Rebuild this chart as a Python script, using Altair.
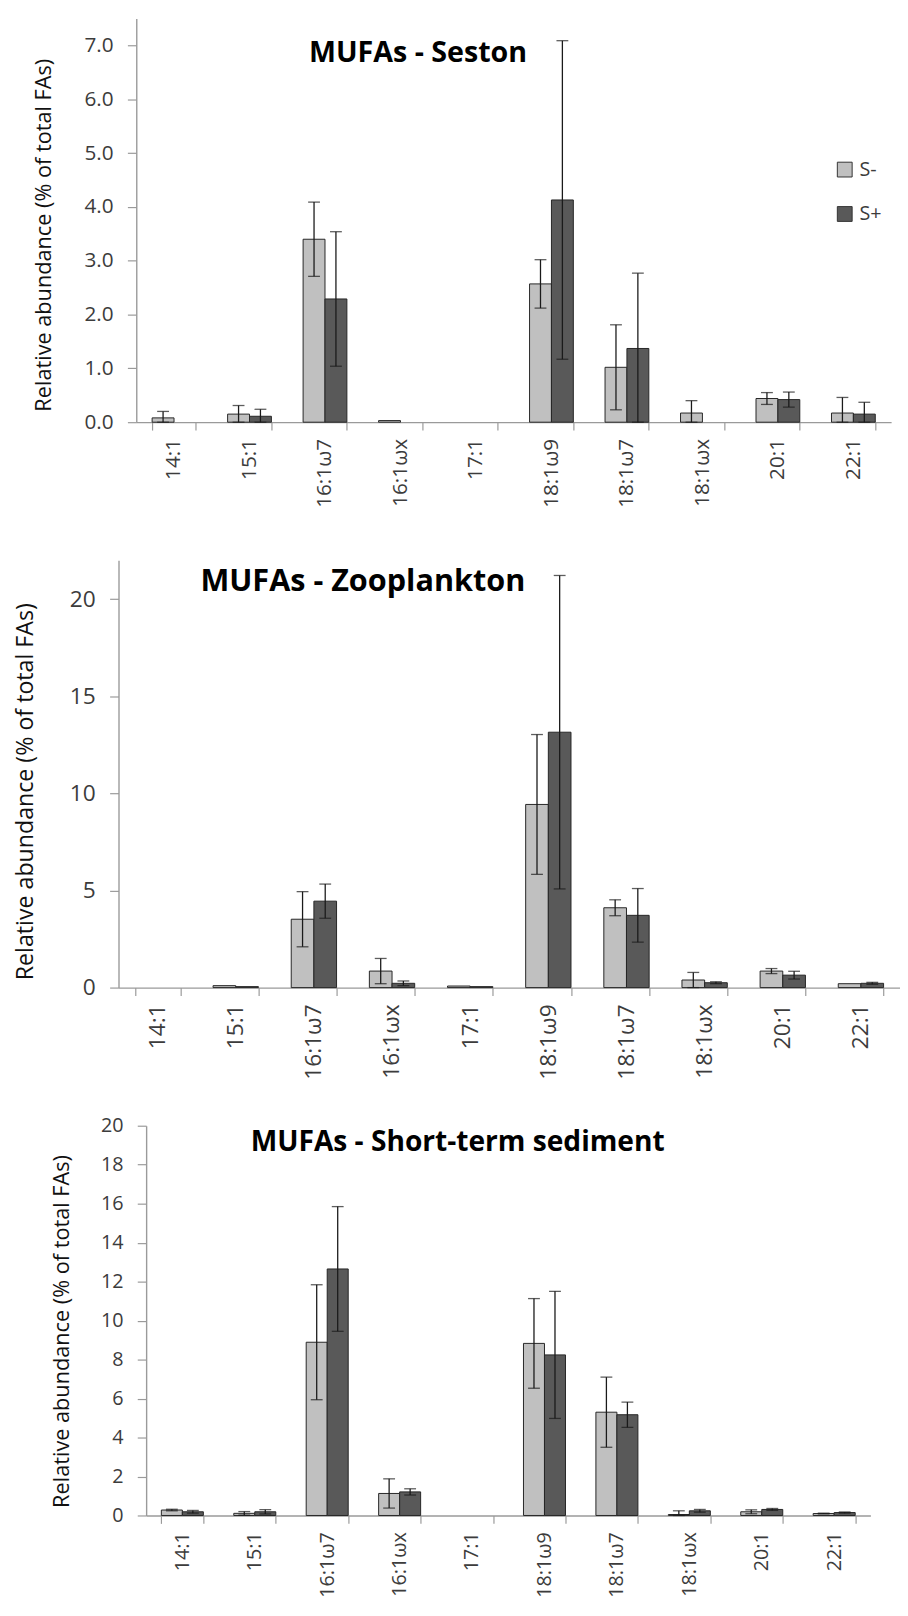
import altair as alt
import pandas as pd

categories = ["14:1", "15:1", "16:1ω7", "16:1ωx", "17:1", "18:1ω9", "18:1ω7", "18:1ωx", "20:1", "22:1"]
groups = ["S-", "S+"]

seston_sminus = [0.08, 0.15, 3.40, 0.03, 0.0, 2.57, 1.02, 0.17, 0.44, 0.17]
seston_sminus_err = [0.12, 0.16, 0.69, 0.0, 0.0, 0.45, 0.79, 0.23, 0.11, 0.29]
seston_splus = [0.0, 0.11, 2.29, 0.0, 0.0, 4.13, 1.37, 0.0, 0.42, 0.15]
seston_splus_err = [0.0, 0.13, 1.25, 0.0, 0.0, 2.96, 1.40, 0.0, 0.14, 0.22]

zoo_sminus = [0.0, 0.10, 3.52, 0.85, 0.08, 9.43, 4.11, 0.39, 0.85, 0.20]
zoo_sminus_err = [0.0, 0.0, 1.42, 0.65, 0.0, 3.60, 0.41, 0.39, 0.13, 0.0]
zoo_splus = [0.0, 0.05, 4.45, 0.22, 0.05, 13.15, 3.72, 0.25, 0.64, 0.22]
zoo_splus_err = [0.0, 0.0, 0.88, 0.12, 0.0, 8.07, 1.38, 0.05, 0.20, 0.05]

sed_sminus = [0.28, 0.11, 8.89, 1.13, 0.0, 8.83, 5.30, 0.05, 0.19, 0.10]
sed_sminus_err = [0.04, 0.09, 2.95, 0.75, 0.0, 2.30, 1.80, 0.19, 0.10, 0.02]
sed_splus = [0.19, 0.19, 12.65, 1.21, 0.0, 8.24, 5.17, 0.24, 0.31, 0.15]
sed_splus_err = [0.07, 0.11, 3.20, 0.16, 0.0, 3.26, 0.65, 0.07, 0.05, 0.03]

FONT = "Open Sans"
TXT = "#3c3c3c"
AX = "#9a9a9a"
YTITLE = "Relative abundance (% of total FAs)"


def build_df(sm, sme, sp, spe):
    rows = []
    for i, c in enumerate(categories):
        for g, v, e in (("S-", sm[i], sme[i]), ("S+", sp[i], spe[i])):
            rows.append({"cat": c, "grp": g, "value": v, "err": e,
                         "lo": max(0.0, v - e), "hi": v + e})
    return pd.DataFrame(rows)


def panel(df, title, tdx, toff, tsize, ymax, yvals, fmt, height, width, xrange_,
          yoff, lab_size, at_size, at_x, at_y, show_legend):
    xscale = alt.Scale(domain=categories, range=xrange_, paddingInner=0.42, paddingOuter=0.21)
    xaxis = alt.Axis(title=None, labelAngle=-90, labelFont=FONT, labelFontSize=lab_size,
                     labelColor=TXT, labelPadding=8.5, tickSize=8, tickColor=AX,
                     domainColor=AX, tickWidth=1.2, domainWidth=1.4, tickBand="extent",
                     labelAlign="right", labelBaseline="middle")
    yaxis = alt.Axis(title=YTITLE, values=yvals, tickCount=30, format=fmt, grid=False,
                     offset=yoff, labelFont=FONT, labelFontSize=lab_size, labelColor=TXT,
                     labelPadding=14.5, tickSize=9, tickColor=AX, tickWidth=1.2,
                     domainColor=AX, domainWidth=1.4, labelOverlap=False,
                     titleFont=FONT, titleFontSize=at_size, titleFontWeight="normal",
                     titleColor="#111111", titleX=at_x, titleY=at_y, titleAngle=270,
                     titleAlign="center", titleBaseline="bottom")
    yscale = alt.Scale(domain=[0, ymax], nice=False, zero=True)
    xoff = alt.XOffset("grp:N", sort=groups,
                       scale=alt.Scale(domain=groups, paddingInner=0, paddingOuter=0))
    base = alt.Chart(df)
    legend = (alt.Legend(title=None, orient="none", legendX=726, legendY=143,
                         symbolType="square", symbolSize=225, symbolStrokeColor="#333333",
                         symbolStrokeWidth=1, symbolOpacity=1, labelFont=FONT,
                         labelFontSize=20, labelColor=TXT, rowPadding=25, labelOffset=5,
                         padding=0)
              if show_legend else None)
    bars = base.transform_filter("datum.value > 0").mark_bar(
        stroke="#262626", strokeWidth=1, opacity=1).encode(
        x=alt.X("cat:N", sort=categories, scale=xscale, axis=xaxis),
        xOffset=xoff,
        y=alt.Y("value:Q", scale=yscale, axis=yaxis),
        color=alt.Color("grp:N", scale=alt.Scale(domain=groups, range=["#c0c0c0", "#595959"]),
                        legend=legend),
    )
    errs = base.transform_filter("datum.err > 0")
    rule = errs.mark_rule(color="#1a1a1a", strokeWidth=1.3).encode(
        x=alt.X("cat:N", sort=categories), xOffset=xoff,
        y=alt.Y("lo:Q"), y2="hi:Q")
    cap_hi = errs.mark_tick(color="#1a1a1a", thickness=1.3, size=12, orient="horizontal").encode(
        x=alt.X("cat:N", sort=categories), xOffset=xoff, y=alt.Y("hi:Q"))
    cap_lo = errs.mark_tick(color="#1a1a1a", thickness=1.3, size=12, orient="horizontal").encode(
        x=alt.X("cat:N", sort=categories), xOffset=xoff, y=alt.Y("lo:Q"))
    return alt.layer(bars, rule, cap_hi, cap_lo).properties(
        width=width, height=height,
        title=alt.TitleParams(text=title, font=FONT, fontSize=tsize, fontWeight="bold",
                              color="#000000", anchor="start", frame="group",
                              offset=toff, dx=tdx),
    )


p1 = panel(build_df(seston_sminus, seston_sminus_err, seston_splus, seston_splus_err),
           "MUFAs - Seston", 193, -49.5, 29, 7.5, [0, 1, 2, 3, 4, 5, 6, 7], ".1f",
           409, 783, [18, 783], -18, 21, 22, -82, 219, True)
p2 = panel(build_df(zoo_sminus, zoo_sminus_err, zoo_splus, zoo_splus_err),
           "MUFAs - Zooplankton", 83, -38.5, 31, 22, [0, 5, 10, 15, 20], "d",
           433, 792, [0, 792], 0, 23, 23.5, -82, 234, False)
p3 = panel(build_df(sed_sminus, sed_sminus_err, sed_splus, sed_splus_err),
           "MUFAs - Short-term sediment", 134, -41, 28.5, 20, list(range(0, 21, 2)), "d",
           395, 762, [28, 762], -28, 20, 22, -74, 208, False)

res = dict(x="independent", y="independent", color="independent", xOffset="independent")
chart = alt.vconcat(p1, p2, p3, spacing=140, bounds="flush").resolve_scale(**res).properties(
    padding={"left": 5, "top": 0, "right": 0, "bottom": 0}
).configure_view(stroke=None)

chart.save("out.html", embed_options={"renderer": "svg", "actions": False})
